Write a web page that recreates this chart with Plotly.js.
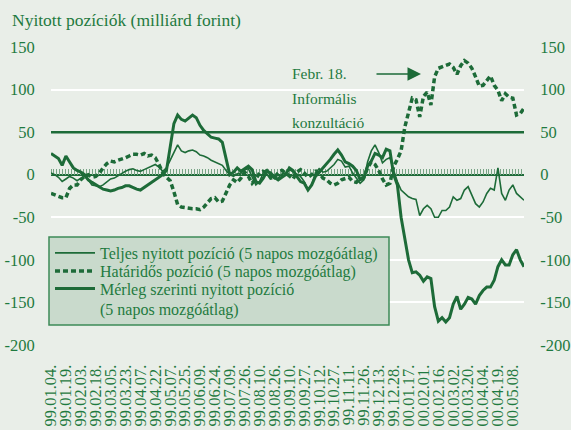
<!DOCTYPE html>
<html>
<head>
<meta charset="utf-8">
<script src="https://cdn.plot.ly/plotly-3.0.1.min.js"></script>
<style>html,body{margin:0;padding:0;background:#e9eee8;}#chart{width:571px;height:430px;}</style>
</head>
<body>
<div id="chart"></div>
<script>
// Tick labels (dates)
const tickLabels = ["99.01.04.","99.01.19.","99.02.03.","99.02.18.","99.03.05.","99.03.23.","99.04.07.","99.04.22.",
  "99.05.07.","99.05.25.","99.06.09.","99.06.24.","99.07.09.","99.07.26.","99.08.10.","99.08.26.",
  "99.09.10.","99.09.27.","99.10.12.","99.10.27.","99.11.11.","99.11.26.","99.12.13.","99.12.28.",
  "00.01.17.","00.02.01.","00.02.16.","00.03.02.","00.03.20.","00.04.04.","00.04.19.","00.05.08."];

// Series values (billion HUF), sampled 4 per label interval
const teljes = [2,0,-3,-8,-5,-2,-4,-7,-4,-2,-6,-12,-13,-14,-12,-8,-5,-4,-1,2,4,6,7,5,4,6,8,10,12,9,4,8,
  17,28,35,28,26,28,29,27,23,22,20,17,15,13,11,5,0,-2,1,2,6,7,-3,-12,-8,2,6,-1,-5,-4,1,2,
  6,3,0,-2,-8,-18,-12,2,7,3,4,8,12,18,16,9,10,2,-4,-10,-6,15,28,35,26,14,18,20,5,-8,
  -18,-22,-26,-28,-29,-48,-40,-36,-40,-50,-50,-42,-42,-38,-26,-30,-28,-18,-14,-24,-34,-38,-32,-22,-16,-18,8,-22,-30,-18,-12,-22,-26,-30];

const hataridos = [-22,-24,-25,-27,-27,-16,-12,-12,-6,-2,0,-3,-2,2,8,13,16,15,17,18,20,22,24,24,23,25,22,23,20,12,2,-3,
  -7,-20,-35,-38,-39,-39,-40,-40,-41,-38,-33,-28,-27,-32,-31,-22,-12,-6,-9,-4,3,-2,-10,-5,2,4,2,-4,-3,2,5,2,
  -2,-5,3,6,2,-3,0,4,2,-4,-6,-10,-12,-10,-6,-5,-3,-8,-9,-5,-3,8,15,12,5,-5,-12,-10,10,18,
  28,56,74,90,88,68,92,97,82,115,125,127,129,130,126,118,128,134,131,125,115,104,105,110,116,105,99,87,95,91,90,70,72,78];

const merleg = [25,22,19,11,22,15,8,5,3,0,-6,-9,-12,-15,-17,-18,-19,-18,-16,-15,-13,-13,-15,-17,-18,-15,-12,-8,-5,-3,0,5,
  30,60,70,65,63,66,70,67,58,52,48,44,43,42,38,18,0,3,8,4,7,10,6,-8,-10,-4,4,2,-3,-6,-3,0,
  8,5,-2,-8,-10,-18,-12,-2,3,8,12,18,24,29,23,15,13,10,5,-6,-4,10,16,25,23,20,30,28,0,-12,
  -50,-77,-100,-115,-114,-118,-125,-120,-122,-155,-172,-168,-173,-168,-152,-143,-158,-152,-144,-146,-152,-142,-136,-132,-132,-124,-108,-100,-106,-106,-94,-88,-100,-108];

const yTicks = [150,100,50,0,-50,-100,-150,-200];

const xs = teljes.map((_, i) => i * 0.25);
const tickPos = tickLabels.map((_, i) => i);

const green = '#1d6b38';
const txt = '#1f7a40';
const fam = 'Liberation Serif';

const L = 51, R = 524, T = 47, B = 345, W = 571, H = 430;
const px = v => (v - L) / (R - L);
const py = v => (B - v) / (B - T);

const data = [
  {x: xs, y: teljes, name: 'Teljes nyitott pozíció (5 napos mozgóátlag)', mode: 'lines',
   line: {color: green, width: 1.6}, legend: 'legend'},
  {x: xs, y: hataridos, name: 'Határidős pozíció (5 napos mozgóátlag)', mode: 'lines',
   line: {color: green, width: 3.5, dash: '5px,3px'}, legend: 'legend2'},
  {x: xs, y: merleg, name: 'Mérleg szerinti nyitott pozíció<br>(5 napos mozgóátlag)', mode: 'lines',
   line: {color: green, width: 3}, legend: 'legend3'},
  {x: [], y: [], yaxis: 'y2', showlegend: false, hoverinfo: 'skip'},
  {x: [], y: [], xaxis: 'x2', showlegend: false, hoverinfo: 'skip'}
];

const legendBase = {xanchor: 'left', yanchor: 'middle', bgcolor: 'rgba(0,0,0,0)', borderwidth: 0,
  font: {family: fam, size: 16, color: txt}, itemwidth: 40, valign: 'top'};

const layout = {
  width: W, height: H,
  margin: {l: L, r: W - R, t: T, b: H - B},
  paper_bgcolor: '#e9eee8', plot_bgcolor: '#e9eee8',
  font: {family: fam, color: txt},
  showlegend: true,
  title: {text: 'Nyitott pozíciók (milliárd forint)', font: {family: fam, size: 17.5, color: txt},
    x: 12 / W, xref: 'container', xanchor: 'left', y: 1 - 20 / H, yref: 'container', yanchor: 'middle'},
  xaxis: {range: [0, 31.75], tickvals: tickPos, ticktext: tickLabels, tickangle: -90,
    tickfont: {family: fam, size: 16.5, color: txt}, ticks: 'outside', ticklen: 12, tickcolor: 'rgba(0,0,0,0)',
    showgrid: false, zeroline: false, showline: false, fixedrange: true},
  xaxis2: {range: [0, 31.75], overlaying: 'x', anchor: 'free', position: 200 / 350, side: 'top',
    tick0: 0, dtick: 0.2, ticks: 'outside', ticklen: 6, tickwidth: 1, tickcolor: '#78a485',
    showticklabels: false, showgrid: false, zeroline: false, showline: false, layer: 'below traces'},
  yaxis: {range: [-200, 150], tickvals: yTicks, ticktext: yTicks.map(String),
    tickfont: {family: fam, size: 16.5, color: txt}, ticks: 'outside', ticklen: 12, tickcolor: 'rgba(0,0,0,0)',
    showgrid: true, gridcolor: '#ffffff', gridwidth: 2,
    zeroline: true, zerolinecolor: green, zerolinewidth: 2, showline: false},
  yaxis2: {range: [-200, 150], overlaying: 'y', side: 'right', anchor: 'x', tickvals: yTicks, ticktext: yTicks.map(String),
    tickfont: {family: fam, size: 16.5, color: txt}, ticks: 'outside', ticklen: 12, tickcolor: 'rgba(0,0,0,0)',
    showgrid: false, zeroline: false, showline: false},
  shapes: [
    {type: 'line', xref: 'paper', x0: 0, x1: 1, yref: 'y', y0: 50, y1: 50, line: {color: green, width: 2.5}, layer: 'above'},
    {type: 'rect', xref: 'paper', yref: 'paper', x0: px(49), x1: px(389), y0: py(325), y1: py(237),
     fillcolor: '#c9dacc', line: {color: '#3d8a57', width: 1.5}, layer: 'above'}
  ],
  legend: Object.assign({}, legendBase, {x: px(50), y: py(253)}),
  legend2: Object.assign({}, legendBase, {x: px(50), y: py(271)}),
  legend3: Object.assign({}, legendBase, {x: px(50), y: py(299)}),
  annotations: [
    {text: 'Febr. 18.', xref: 'paper', yref: 'paper', x: px(290), y: py(73), xanchor: 'left', yanchor: 'middle',
     showarrow: false, font: {family: fam, size: 15.5, color: txt}},
    {text: 'Informális', xref: 'paper', yref: 'paper', x: px(290), y: py(98), xanchor: 'left', yanchor: 'middle',
     showarrow: false, font: {family: fam, size: 15.5, color: txt}},
    {text: 'konzultáció', xref: 'paper', yref: 'paper', x: px(290), y: py(122), xanchor: 'left', yanchor: 'middle',
     showarrow: false, font: {family: fam, size: 15.5, color: txt}},
    {text: '', xref: 'paper', yref: 'paper', x: px(421), y: py(74), showarrow: true, ax: -46, ay: 0,
     arrowcolor: green, arrowwidth: 1.5, arrowhead: 2, arrowsize: 1.8, standoff: 0}
  ]
};

Plotly.newPlot('chart', data, layout, {staticPlot: true, displayModeBar: false});
</script>
</body>
</html>
